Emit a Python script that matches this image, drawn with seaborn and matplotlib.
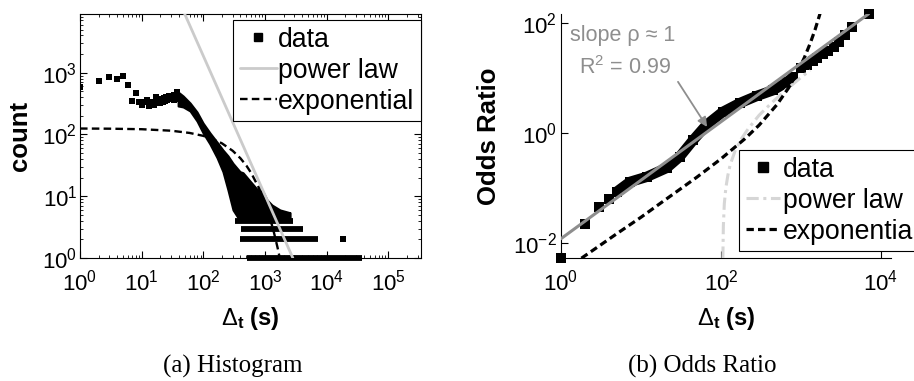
import numpy as np
import matplotlib
matplotlib.use("Agg")
import matplotlib.pyplot as plt
import seaborn as sns
from matplotlib.lines import Line2D
from matplotlib.ticker import LogLocator, NullFormatter, NullLocator, FixedLocator

# ---------------- (a) histogram of inter-event times ----------------
# individually resolved bins at short delays
hist_dt = [1, 2, 3, 4, 5, 6, 7, 8, 9, 10, 11, 12, 13, 14, 15, 16, 17, 18, 19, 20,
           21, 22, 23, 24, 25, 26, 27, 28, 29, 30, 31, 32, 33, 34, 35, 36, 37, 38, 39, 40]
hist_count = [580, 740, 840, 780, 885, 640, 345, 475, 340, 300, 330, 365, 290, 310, 340,
              300, 405, 330, 360, 320, 370, 340, 390, 350, 410, 360, 380, 420, 370, 400,
              380, 410, 360, 430, 390, 440, 480, 420, 400, 380]
# dense region: outer envelope of the overlapping markers
band_dt = [39, 47, 61, 79, 99, 128, 167, 208, 251, 303, 393, 440, 572, 743, 930, 1080, 1300, 1750, 2550]
band_hi = [487, 420, 323, 231, 153, 106, 75, 56, 45, 34, 25, 24, 17.6, 13, 11.7, 8.7, 7.2, 6.0, 5.4]
band_lo = [289, 279, 240, 165, 106, 70, 42, 25, 12.6, 6, 4, 4, 4, 4, 4, 4, 4, 4, 4]
# low-count rows (every bin in the span holds the same integer count)
row_count = [1, 2, 3, 4]
row_start = [510, 390, 408, 326]
row_end = [37000, 7250, 4140, 2850]
stray_dt = [18400, 1700, 2400]
stray_count = [2, 5, 5]
# fitted models
pl_hist_dt = [40, 2830]
pl_hist_count = [14700, 1]
exp_hist_dt = [1, 3, 10, 30, 60, 100, 150, 200, 300, 400, 500, 600, 800, 1000, 1200, 1400, 1600, 1800]
exp_hist_count = [124.7, 124.0, 121.6, 115.0, 105.8, 94.9, 82.4, 71.9, 54.3, 41.1, 31.2, 23.6,
                  13.5, 7.8, 4.5, 2.56, 1.47, 0.84]

# ---------------- (b) odds ratio ----------------
or_dt = [1, 2, 3, 4, 5]
or_val = [0.0053, 0.022, 0.045, 0.063, 0.085]
or_band_dt = [5, 7.3, 11.8, 21, 30.6, 45, 66, 105, 173, 280, 450, 670, 800]
or_band_val = [0.085, 0.128, 0.158, 0.23, 0.37, 0.74, 1.4, 2.4, 3.5, 4.7, 6.0, 8.5, 10.4]
or_tail_dt = [1000, 1200, 1400, 1600, 1900, 2200, 2600, 3000, 3500, 4400, 7000]
or_tail_val = [15, 17.5, 20, 23, 27, 31, 37, 45, 60, 86, 146]
fit_dt = [1, 7000]
fit_val = [0.0118, 147]
pl_or_dt = [105.5, 107, 110, 115, 122, 130, 150, 180, 220, 300, 450, 660, 1000, 1300]
pl_or_val = [0.0051, 0.02, 0.051, 0.10, 0.17, 0.26, 0.47, 0.78, 1.2, 2.1, 3.75, 6.2, 10.2, 13.8]
exp_or_dt = [1.8, 3, 5, 10, 20, 50, 100, 200, 300, 500, 700, 900, 1100, 1300, 1500, 1700, 1800]
exp_or_val = [0.0052, 0.0087, 0.0146, 0.029, 0.06, 0.156, 0.336, 0.785, 1.385, 3.26, 6.6,
              12.6, 23.3, 42.3, 76, 137, 183]

LIGHT = "#cbcbcb"
MID = "#8e8e8e"
LEG_FS = 19.2

sns.set_theme(style="ticks")
plt.rcParams.update({
    "font.family": ["Liberation Sans", "DejaVu Sans"],
    "mathtext.fontset": "custom",
    "mathtext.rm": "Liberation Sans",
    "mathtext.it": "Liberation Sans:italic",
    "mathtext.bf": "Liberation Sans:bold",
    "mathtext.sf": "Liberation Sans",
    "axes.edgecolor": "black",
    "axes.linewidth": 0.8,
    "xtick.color": "black",
    "ytick.color": "black",
    "axes.labelcolor": "black",
    "text.color": "black",
})

fig = plt.figure(figsize=(9.14, 3.81), dpi=100)
W, H = 914.0, 381.0
ax1 = fig.add_axes([80 / W, 1 - 258 / H, 341 / W, 244 / H])
ax2 = fig.add_axes([561 / W, 1 - 258 / H, 330 / W, 244 / H])

# ---- panel (a) ----
ax1.set_xscale("log")
ax1.set_yscale("log")
ax1.fill_between(band_dt, band_lo, band_hi, color="black", lw=1.5, edgecolor="black", zorder=3)
ax1.hlines(row_count, row_start, row_end, colors="black", lw=4.2, zorder=3, clip_on=False)
sns.scatterplot(x=hist_dt, y=hist_count, ax=ax1, marker="s", s=20, color="black",
                linewidth=0, zorder=4)
sns.scatterplot(x=stray_dt, y=stray_count, ax=ax1, marker="s", s=20, color="black",
                linewidth=0, zorder=4, clip_on=False)
sns.lineplot(x=pl_hist_dt, y=pl_hist_count, ax=ax1, color=LIGHT, lw=2, sort=False,
             estimator=None, zorder=5)
sns.lineplot(x=exp_hist_dt, y=exp_hist_count, ax=ax1, color="black", lw=1.7, sort=False,
             estimator=None, linestyle=(0, (3.2, 1.8)), zorder=5)
ax1.set_xlim(1, 10 ** 5.53)
ax1.set_ylim(1, 10 ** 3.95)
ax1.xaxis.set_major_locator(FixedLocator([1, 10, 100, 1e3, 1e4, 1e5]))
ax1.yaxis.set_major_locator(FixedLocator([1, 10, 100, 1e3]))
for axis in (ax1.xaxis, ax1.yaxis):
    axis.set_minor_locator(LogLocator(base=10, subs=np.arange(2, 10), numticks=30))
    axis.set_minor_formatter(NullFormatter())
ax1.tick_params(which="both", direction="in", top=True, right=True, labelsize=16)
ax1.tick_params(which="major", length=5, width=0.8)
ax1.tick_params(which="minor", length=2.5, width=0.6)
ax1.tick_params(axis="x", pad=8)
ax1.tick_params(axis="y", pad=2)
ax1.set_xlabel(r"$\Delta_{\mathbf{t}}$ (s)", fontsize=17, fontweight="bold", va="center")
ax1.xaxis.set_label_coords(0.5, (258 - 318) / 244)
ax1.set_ylabel("count", fontsize=18.5, fontweight="bold", va="center")
ax1.yaxis.set_label_coords((20 - 80) / 341, 0.5)

h1 = [Line2D([], [], marker="s", ls="none", color="black", ms=5.5),
      Line2D([], [], color=LIGHT, lw=2),
      Line2D([], [], color="black", lw=1.7, ls=(0, (3.2, 1.8)))]
leg1 = ax1.legend(h1, ["data", "power law", "exponential"], loc="upper left",
                  bbox_to_anchor=(233 / W, 1 - 20 / H), bbox_transform=fig.transFigure,
                  borderaxespad=0, fontsize=LEG_FS, frameon=True, fancybox=False,
                  framealpha=1, edgecolor="black", handlelength=1.4, handletextpad=0.05,
                  borderpad=0.25, labelspacing=0.19)
leg1.get_frame().set_linewidth(0.8)

# ---- panel (b) ----
ax2.set_xscale("log")
ax2.set_yscale("log")
sns.lineplot(x=or_band_dt, y=or_band_val, ax=ax2, color="black", lw=7.5, sort=False,
             estimator=None, zorder=3, solid_capstyle="butt")
sns.scatterplot(x=or_dt + or_band_dt + or_tail_dt, y=or_val + or_band_val + or_tail_val,
                ax=ax2, marker="s", s=52, color="black", linewidth=0, zorder=3, clip_on=False)
sns.lineplot(x=pl_or_dt, y=pl_or_val, ax=ax2, color="#d6d6d6", lw=2.2, sort=False,
             estimator=None, linestyle=(0, (4, 1.5, 1, 1.5)), zorder=4)
sns.lineplot(x=exp_or_dt, y=exp_or_val, ax=ax2, color="black", lw=2.3, sort=False,
             estimator=None, linestyle=(0, (2.3, 1.3)), zorder=4)
sns.lineplot(x=fit_dt, y=fit_val, ax=ax2, color=MID, lw=2.2, sort=False,
             estimator=None, zorder=5)
ax2.set_xlim(1, 10 ** 4.125)
ax2.set_ylim(10 ** -2.28, 10 ** 2.165)
ax2.xaxis.set_major_locator(FixedLocator([1, 100, 1e4]))
ax2.yaxis.set_major_locator(FixedLocator([0.01, 1, 100]))
ax2.xaxis.set_minor_locator(NullLocator())
ax2.yaxis.set_minor_locator(NullLocator())
sns.despine(ax=ax2)
ax2.tick_params(which="major", direction="in", length=5, width=0.8, labelsize=16)
ax2.tick_params(axis="x", pad=8)
ax2.tick_params(axis="y", pad=3)
ax2.set_xlabel(r"$\Delta_{\mathbf{t}}$ (s)", fontsize=17, fontweight="bold", va="center")
ax2.xaxis.set_label_coords(0.5, (258 - 318) / 244)
ax2.set_ylabel("Odds Ratio", fontsize=18.5, fontweight="bold", va="center")
ax2.yaxis.set_label_coords((489 - 561) / 330, 0.5)

ax2.text(0.188, 0.91, "slope ρ ≈ 1", transform=ax2.transAxes, ha="center", va="center",
         color=MID, fontsize=15.5)
ax2.text(0.194, 0.779, r"R$^2$ = 0.99", transform=ax2.transAxes, ha="center", va="center",
         color=MID, fontsize=15.5)
ax2.annotate("", xy=(67, 1.28), xytext=(29, 8.5),
             arrowprops=dict(arrowstyle="-|>", color=MID, lw=1.3, mutation_scale=14,
                             shrinkA=0, shrinkB=0), zorder=6)

h2 = [Line2D([], [], marker="s", ls="none", color="black", ms=7.5),
      Line2D([], [], color="#d6d6d6", lw=2.2, ls=(0, (4, 1.5, 1, 1.5))),
      Line2D([], [], color="black", lw=2.3, ls=(0, (2.3, 1.3)))]
leg2 = ax2.legend(h2, ["data", "power law", "exponential"], loc="upper left",
                  bbox_to_anchor=(739 / W, 1 - 150 / H), bbox_transform=fig.transFigure,
                  borderaxespad=0, fontsize=LEG_FS, frameon=True, fancybox=False,
                  framealpha=1, edgecolor="black", handlelength=1.3, handletextpad=0.1,
                  borderpad=0.25, labelspacing=0.19)
leg2.get_frame().set_linewidth(0.8)

# captions
fig.text(233 / W, 1 - 366 / H, "(a) Histogram", ha="center", va="center",
         family="Liberation Serif", fontsize=18)
fig.text(702 / W, 1 - 366 / H, "(b) Odds Ratio", ha="center", va="center",
         family="Liberation Serif", fontsize=18)

fig.savefig("out.png", dpi=100)
